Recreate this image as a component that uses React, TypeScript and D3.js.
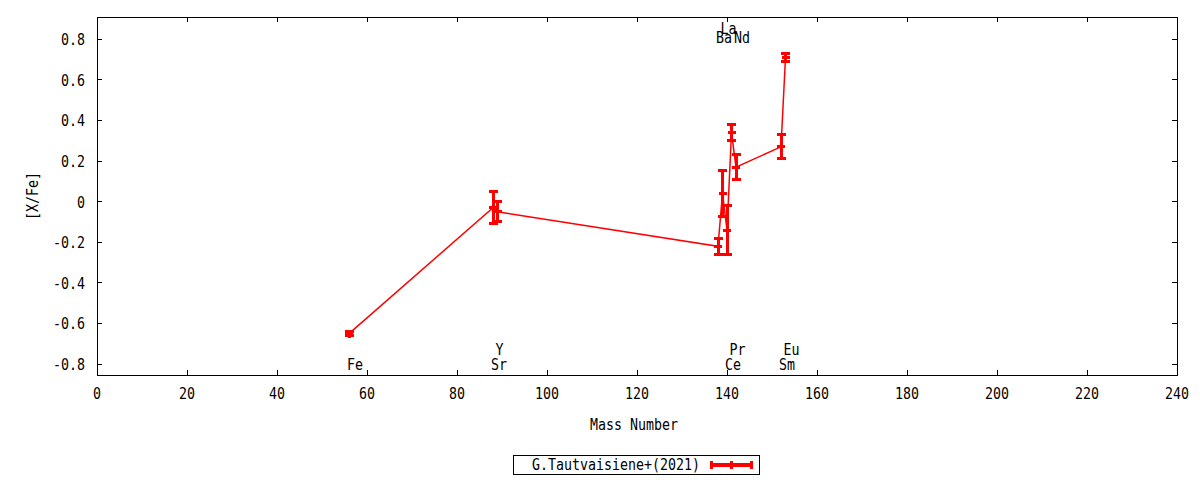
import React, { useEffect, useRef } from 'react';
import * as d3 from 'd3';

// abundances per element
const elements = ['Fe', 'Sr', 'Y', 'Ba', 'La', 'Ce', 'Pr', 'Nd', 'Sm', 'Eu'];
const massNumbers = [56, 88, 89, 138, 139, 140, 141, 142, 152, 153];
const xfeValues = [-0.65, -0.03, -0.05, -0.22, 0.04, -0.14, 0.34, 0.17, 0.27, 0.71];
const xfeErrors = [0.01, 0.08, 0.05, 0.04, 0.115, 0.12, 0.04, 0.06, 0.06, 0.02];
// where each element name sits (in [X/Fe] units)
const labelLevels = [-0.8, -0.8, -0.726, 0.81, 0.855, -0.8, -0.726, 0.81, -0.8, -0.726];

const xTicks = [0, 20, 40, 60, 80, 100, 120, 140, 160, 180, 200, 220, 240];
const yTicks = [-0.8, -0.6, -0.4, -0.2, 0, 0.2, 0.4, 0.6, 0.8];
const seriesName = 'G.Tautvaisiene+(2021)';

const FONT = '"DejaVu Sans Mono", monospace';
const RED = '#ff0000';

const App: React.FC = () => {
  const ref = useRef<SVGSVGElement | null>(null);

  useEffect(() => {
    if (!ref.current) return;
    const svg = d3.select(ref.current);
    svg.selectAll('*').remove();

    const left = 97, right = 1177, top = 17.3, bottom = 375;
    const x = d3.scaleLinear().domain([0, 240]).range([left, right]);
    const y = d3.scaleLinear().domain([-0.854, 0.908]).range([bottom, top]);

    // monospace text squeezed to 8px per char like the original
    const addText = (g: any, s: string, px: number, py: number, anchor = 'middle') =>
      g.append('text')
        .attr('x', px)
        .attr('y', py)
        .attr('text-anchor', anchor)
        .attr('font-family', FONT)
        .attr('font-size', 16)
        .attr('textLength', s.length * 8)
        .attr('lengthAdjust', 'spacingAndGlyphs')
        .attr('fill', '#000')
        .text(s);

    // ticks (inside, mirrored)
    const ticks = svg.append('g').attr('stroke', '#000').attr('stroke-width', 1).attr('shape-rendering', 'crispEdges');
    xTicks.forEach(t => {
      ticks.append('line').attr('x1', x(t)).attr('x2', x(t)).attr('y1', bottom).attr('y2', bottom - 5);
      ticks.append('line').attr('x1', x(t)).attr('x2', x(t)).attr('y1', top).attr('y2', top + 5);
      addText(svg, String(t), x(t), 399);
    });
    yTicks.forEach(t => {
      ticks.append('line').attr('x1', left).attr('x2', left + 5).attr('y1', y(t)).attr('y2', y(t));
      ticks.append('line').attr('x1', right).attr('x2', right - 5).attr('y1', y(t)).attr('y2', y(t));
      addText(svg, t === 0 ? '0' : t.toFixed(1), 85, y(t) + 6, 'end');
    });

    svg.append('rect')
      .attr('x', left).attr('y', top)
      .attr('width', right - left).attr('height', bottom - top)
      .attr('fill', 'none').attr('stroke', '#000').attr('stroke-width', 1)
      .attr('shape-rendering', 'crispEdges');

    addText(svg, 'Mass Number', 634, 430);
    addText(svg, '[X/Fe]', 0, 0).attr('transform', 'translate(38,196) rotate(-90)');

    // element names
    elements.forEach((el, i) => {
      addText(svg, el, x(massNumbers[i]) - 2, y(labelLevels[i]) + 6, 'start');
    });

    // data
    const pts = massNumbers.map((m, i) => ({ m, v: xfeValues[i], e: xfeErrors[i] }));
    const line = d3.line<{ m: number; v: number }>().x(d => x(d.m)).y(d => y(d.v));
    svg.append('path')
      .datum(pts)
      .attr('d', line)
      .attr('fill', 'none')
      .attr('stroke', RED)
      .attr('stroke-width', 1.5);

    const bars = svg.append('g').attr('stroke', RED).attr('stroke-width', 3).attr('shape-rendering', 'crispEdges');
    pts.forEach(d => {
      const cx = x(d.m);
      const y0 = y(d.v - d.e), y1 = y(d.v + d.e), yc = y(d.v);
      bars.append('line').attr('x1', cx).attr('x2', cx).attr('y1', y0).attr('y2', y1);
      bars.append('line').attr('x1', cx - 4.5).attr('x2', cx + 4.5).attr('y1', y0).attr('y2', y0);
      bars.append('line').attr('x1', cx - 4.5).attr('x2', cx + 4.5).attr('y1', y1).attr('y2', y1);
      bars.append('line').attr('x1', cx - 4).attr('x2', cx + 4).attr('y1', yc).attr('y2', yc);
      bars.append('line').attr('x1', cx).attr('x2', cx).attr('y1', yc - 4).attr('y2', yc + 4);
    });

    // legend
    svg.append('rect')
      .attr('x', 513).attr('y', 455).attr('width', 246).attr('height', 19)
      .attr('fill', '#fff').attr('stroke', '#000').attr('stroke-width', 1)
      .attr('shape-rendering', 'crispEdges');
    addText(svg, seriesName, 532, 470, 'start');
    const lg = svg.append('g').attr('stroke', RED).attr('shape-rendering', 'crispEdges');
    lg.append('line').attr('x1', 710).attr('x2', 752).attr('y1', 465).attr('y2', 465).attr('stroke-width', 4);
    lg.append('line').attr('x1', 711).attr('x2', 711).attr('y1', 461).attr('y2', 469).attr('stroke-width', 3);
    lg.append('line').attr('x1', 751).attr('x2', 751).attr('y1', 461).attr('y2', 469).attr('stroke-width', 3);
    lg.append('line').attr('x1', 731).attr('x2', 731).attr('y1', 461).attr('y2', 469).attr('stroke-width', 3);
  }, []);

  return (
    <svg
      ref={ref}
      width={1200}
      height={480}
      style={{ position: 'absolute', left: 0, top: 0, background: '#fff' }}
    />
  );
};

export default App;
